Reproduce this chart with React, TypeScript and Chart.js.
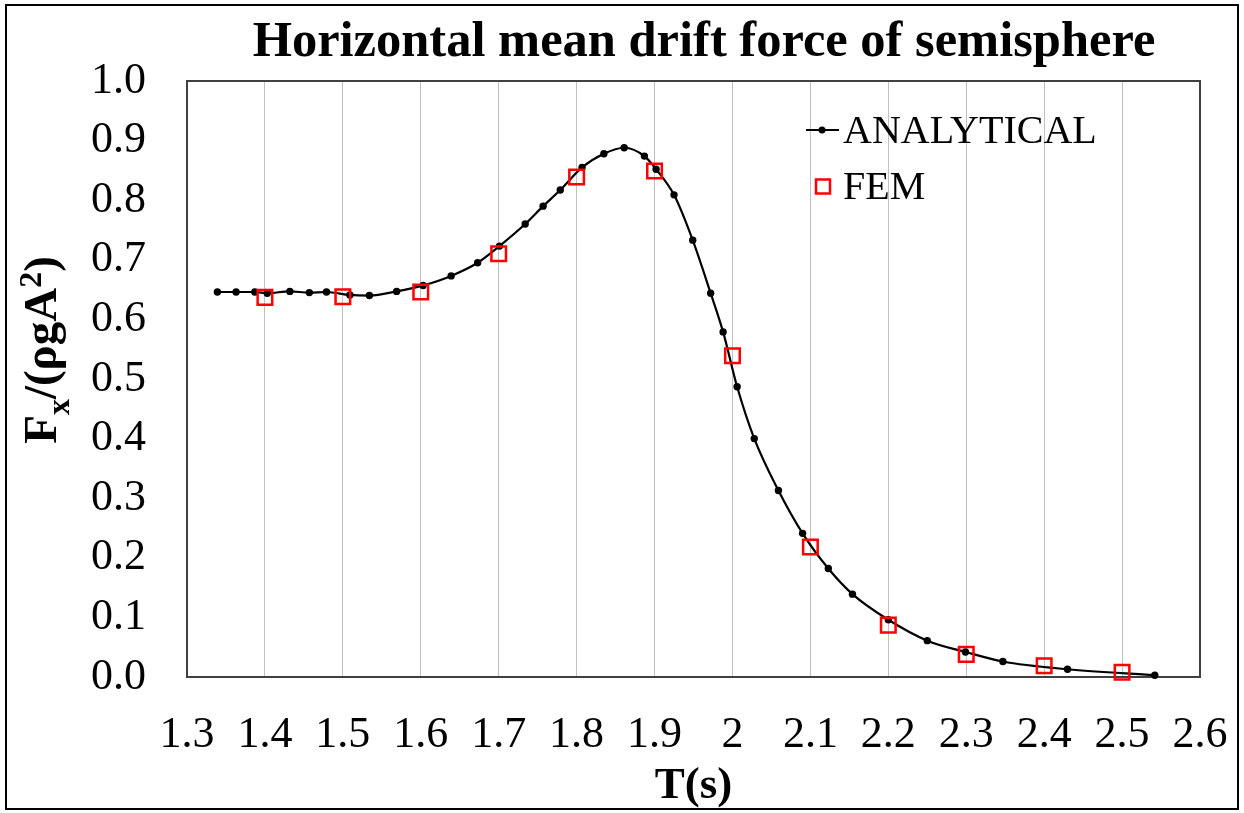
import React, { useEffect, useRef } from 'react';
import { Chart, registerables } from 'chart.js';

Chart.register(...registerables);

// ---------- data ----------
const analyticalT = [
  1.339, 1.363, 1.387, 1.403, 1.432, 1.457, 1.479, 1.509, 1.534, 1.569,
  1.603, 1.639, 1.673, 1.701, 1.734, 1.757, 1.779, 1.807, 1.835, 1.861,
  1.887, 1.902, 1.925, 1.949, 1.972, 1.988, 2.006, 2.028, 2.059, 2.090,
  2.123, 2.154, 2.200, 2.250, 2.299, 2.347, 2.430, 2.542,
];
const analyticalF = [
  0.646, 0.646, 0.646, 0.644, 0.647, 0.645, 0.646, 0.641, 0.640, 0.647,
  0.657, 0.673, 0.695, 0.723, 0.760, 0.790, 0.817, 0.855, 0.878, 0.888,
  0.874, 0.852, 0.809, 0.733, 0.644, 0.579, 0.487, 0.400, 0.313, 0.241,
  0.182, 0.139, 0.096, 0.061, 0.042, 0.026, 0.013, 0.003,
];
const femT = [1.4, 1.5, 1.6, 1.7, 1.8, 1.9, 2.0, 2.1, 2.2, 2.3, 2.4, 2.5];
const femF = [0.637, 0.638, 0.646, 0.710, 0.839, 0.849, 0.539, 0.218, 0.087, 0.038, 0.019, 0.008];

const xTicks = [1.3, 1.4, 1.5, 1.6, 1.7, 1.8, 1.9, 2.0, 2.1, 2.2, 2.3, 2.4, 2.5, 2.6];
const yTicks = [0, 0.1, 0.2, 0.3, 0.4, 0.5, 0.6, 0.7, 0.8, 0.9, 1.0];

const titleText = 'Horizontal mean drift force of semisphere';
const xTitleText = 'T(s)';
const yTitleParts = ['F', 'x', '/(ρgA', '2', ')'];
const yTitleRoles = ['main', 'sub', 'main', 'sup', 'main'];
const seriesNames = ['ANALYTICAL', 'FEM'];

const SERIF = "'Liberation Serif', 'Times New Roman', serif";

export default function App() {
  const ref = useRef<HTMLCanvasElement | null>(null);

  useEffect(() => {
    document.body.style.margin = '0';
    const canvas = ref.current;
    if (!canvas) return;

    const decor = {
      id: 'decor',
      beforeDraw(chart: any) {
        const ctx = chart.ctx;
        ctx.save();
        ctx.fillStyle = '#ffffff';
        ctx.fillRect(0, 0, chart.width, chart.height);
        ctx.restore();
      },
      beforeDatasetsDraw(chart: any) {
        const ctx = chart.ctx;
        const a = chart.chartArea;
        ctx.save();
        ctx.strokeStyle = '#404040';
        ctx.lineWidth = 2;
        ctx.strokeRect(a.left, a.top, a.right - a.left, a.bottom - a.top);
        ctx.restore();
      },
      afterDraw(chart: any) {
        const ctx = chart.ctx;
        const a = chart.chartArea;
        ctx.save();
        // outer frame
        ctx.strokeStyle = '#000000';
        ctx.lineWidth = 2;
        ctx.strokeRect(6, 5, 1232, 804);

        ctx.fillStyle = '#000000';
        // title
        ctx.font = `bold 50.5px ${SERIF}`;
        ctx.textAlign = 'center';
        ctx.textBaseline = 'alphabetic';
        ctx.fillText(titleText, 704, 56);

        // x title
        ctx.font = `bold 45px ${SERIF}`;
        ctx.fillText(xTitleText, (a.left + a.right) / 2, 798);

        // y title (rotated, with sub/superscript)
        const sizeOf = (r: string) => (r === 'main' ? 47 : 32);
        const shiftOf = (r: string) => (r === 'sub' ? 13 : r === 'sup' ? -15 : 0);
        let total = 0;
        const widths: number[] = [];
        yTitleParts.forEach((t, i) => {
          ctx.font = `bold ${sizeOf(yTitleRoles[i])}px ${SERIF}`;
          const w = ctx.measureText(t).width;
          widths.push(w);
          total += w;
        });
        ctx.translate(56, 350);
        ctx.rotate(-Math.PI / 2);
        ctx.textAlign = 'left';
        let pos = -total / 2;
        yTitleParts.forEach((t, i) => {
          ctx.font = `bold ${sizeOf(yTitleRoles[i])}px ${SERIF}`;
          ctx.fillText(t, pos, shiftOf(yTitleRoles[i]));
          pos += widths[i];
        });
        ctx.setTransform(1, 0, 0, 1, 0, 0);

        // legend
        ctx.strokeStyle = '#000000';
        ctx.lineWidth = 2;
        ctx.beginPath();
        ctx.moveTo(806, 130);
        ctx.lineTo(839, 130);
        ctx.stroke();
        ctx.beginPath();
        ctx.arc(822, 130, 3.5, 0, Math.PI * 2);
        ctx.fill();
        ctx.strokeStyle = '#ff0000';
        ctx.lineWidth = 2.5;
        ctx.strokeRect(816, 179.5, 14, 14);
        ctx.fillStyle = '#000000';
        ctx.font = `40px ${SERIF}`;
        ctx.textAlign = 'left';
        ctx.fillText(seriesNames[0], 843, 143);
        ctx.fillText(seriesNames[1], 843, 199);
        ctx.restore();
      },
    };

    const chart = new Chart(canvas, {
      type: 'scatter',
      data: {
        datasets: [
          {
            label: seriesNames[0],
            data: analyticalT.map((t, i) => ({ x: t, y: analyticalF[i] })),
            showLine: true,
            borderColor: '#000000',
            borderWidth: 2.2,
            backgroundColor: '#000000',
            pointBackgroundColor: '#000000',
            pointBorderWidth: 0,
            pointRadius: 3.7,
            cubicInterpolationMode: 'monotone',
            clip: false,
            order: 1,
          },
          {
            label: seriesNames[1],
            data: femT.map((t, i) => ({ x: t, y: femF[i] })),
            showLine: false,
            pointStyle: 'rect',
            pointRadius: 10.3,
            pointBorderWidth: 2.5,
            pointBorderColor: '#ff0000',
            pointBackgroundColor: 'rgba(0,0,0,0)',
            borderColor: '#ff0000',
            backgroundColor: 'rgba(0,0,0,0)',
            clip: false,
            order: 0,
          },
        ],
      },
      options: {
        responsive: false,
        animation: false,
        devicePixelRatio: 1,
        layout: { padding: { top: 81, right: 44, left: 0, bottom: 0 } },
        plugins: {
          legend: { display: false },
          title: { display: false },
          tooltip: { enabled: false },
        },
        scales: {
          x: {
            type: 'linear',
            min: 1.3,
            max: 2.6,
            afterBuildTicks: (s: any) => {
              s.ticks = xTicks.map((v) => ({ value: v }));
            },
            afterFit: (s: any) => {
              s.height = 813 - 677;
              s.paddingLeft = 0;
              s.paddingRight = 0;
            },
            ticks: {
              autoSkip: false,
              maxRotation: 0,
              color: '#000000',
              font: { family: SERIF, size: 44 },
              padding: 32,
              callback: (v: any) => String(Number(Number(v).toFixed(1))),
            },
            grid: { color: '#c0c0c0', lineWidth: 1, drawTicks: false, tickLength: 0 },
            border: { display: false },
          },
          y: {
            type: 'linear',
            min: 0,
            max: 1,
            afterBuildTicks: (s: any) => {
              s.ticks = yTicks.map((v) => ({ value: v }));
            },
            afterFit: (s: any) => {
              s.width = 187;
              s.paddingTop = 0;
              s.paddingBottom = 0;
            },
            ticks: {
              autoSkip: false,
              color: '#000000',
              font: { family: SERIF, size: 44 },
              padding: 41,
              callback: (v: any) => Number(v).toFixed(1),
            },
            grid: { display: false, drawTicks: false, tickLength: 0 },
            border: { display: false },
          },
        },
      },
      plugins: [decor],
    } as any);

    return () => chart.destroy();
  }, []);

  return <canvas ref={ref} width={1244} height={813} style={{ display: 'block' }} />;
}
